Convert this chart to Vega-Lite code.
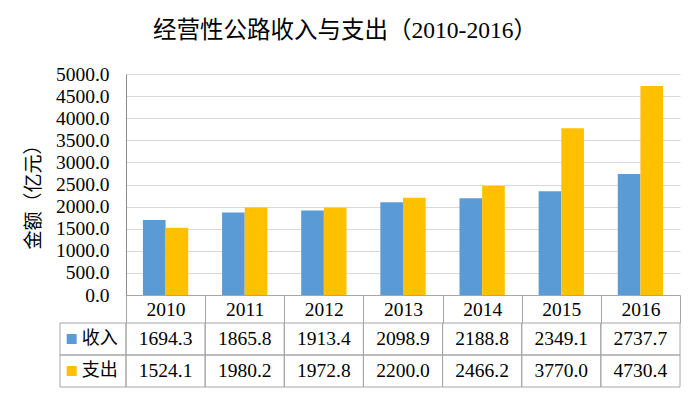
{
  "$schema": "https://vega.github.io/schema/vega-lite/v6.json",
  "width": 554,
  "height": 221,
  "autosize": {"type": "none"},
  "padding": {"left": 126, "top": 74, "right": 20, "bottom": 103},
  "background": "white",
  "title": {
    "text": "经营性公路收入与支出（2010-2016）",
    "font": "Liberation Serif, Noto Sans CJK SC",
    "fontSize": 23.5,
    "fontWeight": "normal",
    "color": "#000000",
    "anchor": "middle",
    "baseline": "alphabetic",
    "dx": -58,
    "offset": 3
  },
  "config": {
    "view": {"stroke": null},
    "text": {"color": "#000000"}
  },
  "data": {
    "values": [
      {"year": "2010", "series": "收入", "value": 1694.3},
      {"year": "2011", "series": "收入", "value": 1865.8},
      {"year": "2012", "series": "收入", "value": 1913.4},
      {"year": "2013", "series": "收入", "value": 2098.9},
      {"year": "2014", "series": "收入", "value": 2188.8},
      {"year": "2015", "series": "收入", "value": 2349.1},
      {"year": "2016", "series": "收入", "value": 2737.7},
      {"year": "2010", "series": "支出", "value": 1524.1},
      {"year": "2011", "series": "支出", "value": 1980.2},
      {"year": "2012", "series": "支出", "value": 1972.8},
      {"year": "2013", "series": "支出", "value": 2200.0},
      {"year": "2014", "series": "支出", "value": 2466.2},
      {"year": "2015", "series": "支出", "value": 3770.0},
      {"year": "2016", "series": "支出", "value": 4730.4}
    ]
  },
  "layer": [
    {
      "mark": {"type": "bar"},
      "encoding": {
        "x": {
          "field": "year",
          "type": "ordinal",
          "scale": {"type": "band", "paddingInner": 0, "paddingOuter": 0},
          "axis": {
            "title": null,
            "orient": "bottom",
            "tickBand": "extent",
            "tickSize": 28,
            "tickColor": "#a6a6a6",
            "domainColor": "#a6a6a6",
            "labelAngle": 0,
            "labelFont": "Liberation Serif",
            "labelFontSize": 19.5,
            "labelColor": "#000000",
            "labelPadding": -23,
            "labelBaseline": "top"
          }
        },
        "xOffset": {
          "field": "series",
          "type": "nominal",
          "sort": ["收入", "支出"],
          "scale": {"type": "band", "paddingInner": 0, "paddingOuter": 0.747}
        },
        "y": {
          "field": "value",
          "type": "quantitative",
          "scale": {"domain": [0, 5000], "nice": false},
          "axis": {
            "values": [0, 500, 1000, 1500, 2000, 2500, 3000, 3500, 4000, 4500, 5000],
            "format": ".1f",
            "ticks": false,
            "tickSize": 0,
            "labelPadding": 17,
            "labelFont": "Liberation Serif",
            "labelFontSize": 19.5,
            "labelColor": "#000000",
            "domainColor": "#8c8c8c",
            "grid": true,
            "gridColor": "#d9d9d9",
            "title": "金额（亿元）",
            "titleFont": "Noto Sans CJK SC",
            "titleFontSize": 19,
            "titleFontWeight": "normal",
            "titleColor": "#000000",
            "titleX": -83,
            "titleY": 118,
            "titleAngle": -90,
            "titleAlign": "center",
            "titleBaseline": "bottom"
          }
        },
        "color": {
          "field": "series",
          "type": "nominal",
          "scale": {"domain": ["收入", "支出"], "range": ["#5B9BD5", "#FFC000"]},
          "legend": null
        }
      }
    },
    {
      "encoding": {
        "x": {
          "field": "year",
          "type": "ordinal",
          "scale": {"type": "band", "paddingInner": 0, "paddingOuter": 0},
          "axis": null
        },
        "y": {
          "field": "series",
          "type": "nominal",
          "scale": {"type": "band", "domain": ["收入", "支出"], "range": [249, 313], "paddingInner": 0, "paddingOuter": 0},
          "axis": null
        }
      },
      "layer": [
        {"mark": {"type": "rect", "fill": "white", "fillOpacity": 0, "stroke": "#a6a6a6", "strokeWidth": 1}},
        {
          "mark": {"type": "text", "font": "Liberation Serif", "fontSize": 19.5, "align": "center", "baseline": "middle", "color": "#000000"},
          "encoding": {"text": {"field": "value", "type": "quantitative", "format": ".1f"}}
        }
      ]
    },
    {
      "transform": [{"filter": "datum.year == '2010'"}],
      "encoding": {
        "y": {
          "field": "series",
          "type": "nominal",
          "scale": {"type": "band", "domain": ["收入", "支出"], "range": [249, 313], "paddingInner": 0, "paddingOuter": 0},
          "axis": null
        }
      },
      "layer": [
        {
          "mark": {"type": "rect", "fill": "white", "fillOpacity": 0, "stroke": "#a6a6a6", "strokeWidth": 1},
          "encoding": {
            "x": {"datum": "h", "type": "nominal", "scale": {"type": "band", "domain": ["h"], "range": [-66, 0], "paddingInner": 0, "paddingOuter": 0}, "axis": null}
          }
        },
        {
          "mark": {"type": "point", "shape": "square", "filled": true, "size": 100, "opacity": 1},
          "encoding": {
            "x": {"datum": "h", "type": "nominal", "bandPosition": 0.177, "scale": {"type": "band", "domain": ["h"], "range": [-66, 0], "paddingInner": 0, "paddingOuter": 0}, "axis": null},
            "color": {"field": "series", "type": "nominal", "legend": null}
          }
        },
        {
          "mark": {"type": "text", "font": "Noto Sans CJK SC", "fontSize": 18, "align": "left", "baseline": "middle", "color": "#000000"},
          "encoding": {
            "x": {"datum": "h", "type": "nominal", "bandPosition": 0.33, "scale": {"type": "band", "domain": ["h"], "range": [-66, 0], "paddingInner": 0, "paddingOuter": 0}, "axis": null},
            "text": {"field": "series"}
          }
        }
      ]
    }
  ],
  "resolve": {"scale": {"x": "independent", "y": "independent"}}
}
